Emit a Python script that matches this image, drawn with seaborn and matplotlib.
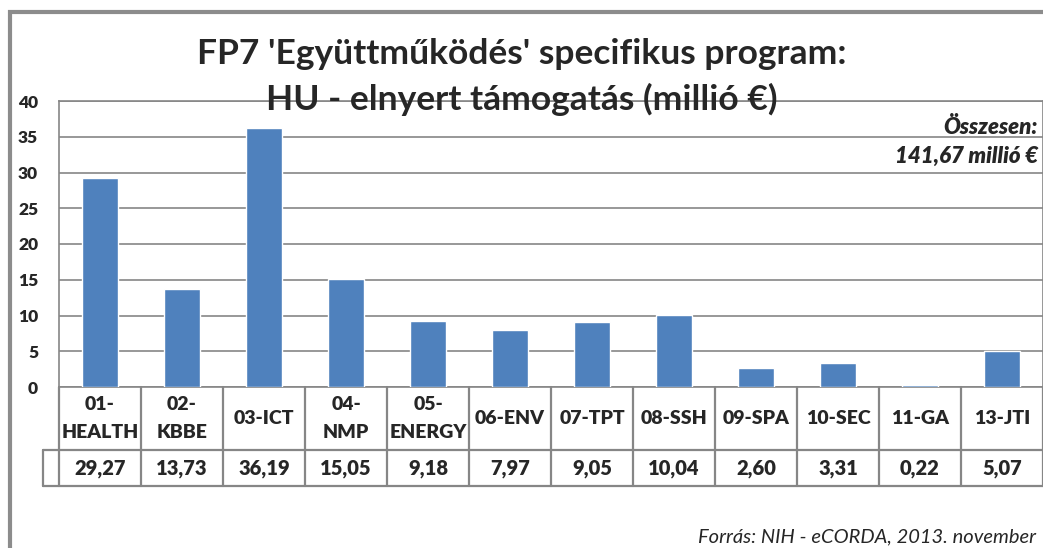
import matplotlib
matplotlib.use("Agg")
import matplotlib.pyplot as plt
from matplotlib.patches import Rectangle
import seaborn as sns
import pandas as pd

# data
categories = ["01-\nHEALTH", "02-\nKBBE", "03-ICT", "04-\nNMP", "05-\nENERGY", "06-ENV",
              "07-TPT", "08-SSH", "09-SPA", "10-SEC", "11-GA", "13-JTI"]
values = [29.27, 13.73, 36.19, 15.05, 9.18, 7.97, 9.05, 10.04, 2.60, 3.31, 0.22, 5.07]
value_labels = ["29,27", "13,73", "36,19", "15,05", "9,18", "7,97", "9,05", "10,04",
                "2,60", "3,31", "0,22", "5,07"]
y_ticks = [0, 5, 10, 15, 20, 25, 30, 35, 40]

title = "FP7 'Együttműködés' specifikus program:\nHU - elnyert támogatás (millió €)"
total_note = "Összesen:\n141,67 millió €"
source_note = "Forrás: NIH - eCORDA, 2013. november"

df = pd.DataFrame({"cat": range(len(categories)), "val": values})

sns.set_theme(style="white")
plt.rcParams["font.family"] = ["Lato", "DejaVu Sans"]

W, H = 1043, 548
fig = plt.figure(figsize=(W / 100, H / 100), dpi=100)
ax = fig.add_axes([59 / W, 1 - 387 / H, (W - 59) / W, 286 / H])

grid_col = "#868686"
sns.barplot(data=df, x="cat", y="val", color="#4F81BD", saturation=1, width=0.43,
            ax=ax, zorder=3)
ax.set_xlim(-0.5, len(categories) - 0.5)
ax.set_ylim(0, 40)
ax.set_yticks(y_ticks)
ax.set_yticklabels([str(t) for t in y_ticks], fontsize=12.5, fontweight="heavy")
ax.tick_params(axis="y", length=0, pad=15)
ax.set_xticks([])
ax.set_xlabel("")
ax.set_ylabel("")
for t in y_ticks:
    ax.axhline(t, color=grid_col, linewidth=1.2, zorder=1)
for s in ax.spines.values():
    s.set_color(grid_col)
    s.set_linewidth(1.2)

# data table under the plot (x in data units, y in axes fraction)
tr = ax.get_xaxis_transform()
row1 = -63 / 286
row2 = -99 / 286
n = len(categories)
lk = dict(color=grid_col, linewidth=1.6, transform=tr, clip_on=False)
for i in range(n + 1):
    ax.plot([i - 0.5, i - 0.5], [0, row2], **lk)
ax.plot([-0.7, n - 0.5], [row1, row1], **lk)
ax.plot([-0.7, n - 0.5], [row2, row2], **lk)
ax.plot([-0.7, -0.7], [row1, row2], **lk)
for i, (c, v) in enumerate(zip(categories, value_labels)):
    ax.text(i, row1 / 2, c, transform=tr, ha="center", va="center", fontsize=14,
            fontweight="heavy", linespacing=1.8, clip_on=False)
    ax.text(i, (row1 + row2) / 2, v, transform=tr, ha="center", va="center",
            fontsize=14.5, fontweight="heavy", clip_on=False)

fig.text(0.5, 1 - 77 / H, title, ha="center", va="center", fontsize=25.5,
         fontweight="bold", linespacing=1.5, zorder=10)
fig.text(1038 / W, 1 - 142 / H, total_note, ha="right", va="center", fontsize=16,
         fontweight="heavy", style="italic", linespacing=1.45)
fig.text(1036 / W, 1 - 537 / H, source_note, ha="right", va="center", fontsize=14.5,
         style="italic")

fig.patches.append(Rectangle((10 / W, -0.1), 1.1, 1.1 - 12 / H, transform=fig.transFigure,
                             fill=False, edgecolor="#8C8C8C", linewidth=3))

fig.savefig("out.png", dpi=100)
